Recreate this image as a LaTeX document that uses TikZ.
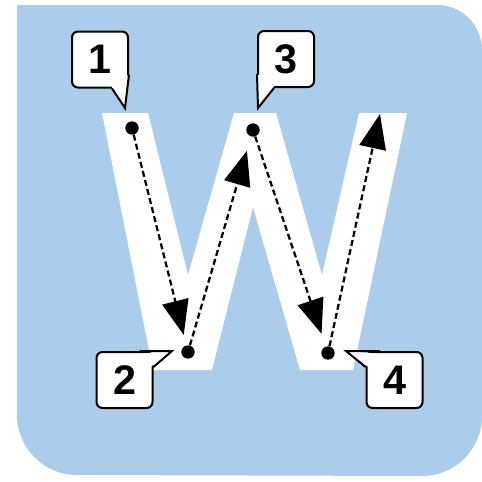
\documentclass[tikz,border=0pt]{standalone}
\usepackage{fontspec}
\setmainfont{Liberation Sans}
\usetikzlibrary{arrows.meta, calc}
\definecolor{tileblue}{RGB}{171,204,235}

\begin{document}
\begin{tikzpicture}[
    x=0.75pt, y=-0.75pt,
    dot/.style={circle, fill=black, inner sep=0pt, minimum size=10pt},
    badge/.style={rectangle, draw=black, fill=white, line width=1.5pt, rounded corners=4.5pt, minimum width=42pt, minimum height=42pt, inner sep=0pt, font=\fontsize{31}{31}\selectfont\bfseries},
    tailfill/.style={fill=white},
    tailline/.style={draw=black, line width=1.5pt, line join=miter},
    trace/.style={-{Triangle[length=26pt, width=20pt]}, dash pattern=on 4.5pt off 2.5pt, line width=1.7pt},
]
    % Page and tile
    \fill[white] (0,0) rectangle (482,482);
    \useasboundingbox (0,0) rectangle (482,482);
    \fill[tileblue] (17,5) -- (437,5) arc[start angle=-90, end angle=0, radius=45]
        -- (482,416) arc[start angle=0, end angle=90, radius=60]
        -- (77,475) arc[start angle=90, end angle=180, radius=60] -- cycle;

    % Letter W
    \fill[white] (102,113) -- (148,113) -- (188,275) -- (234,113) -- (276,113)
        -- (322,275) -- (359,113) -- (407,113) -- (353,370) -- (300,370)
        -- (253,207) -- (212,370) -- (153,370) -- cycle;

    % Stroke points
    \node[dot] (p1) at (132,128) {};
    \node[dot] (p2) at (188,352) {};
    \node[dot] (p3) at (253,130) {};
    \node[dot] (p4) at (328,353) {};
    \coordinate (stop) at (380,114);

    % Stroke order
    \draw[trace, shorten >=8pt] (p1) -- (p2);
    \draw[trace, shorten >=11pt] (p2) -- (p3);
    \draw[trace, shorten >=10pt] (p3) -- (p4);
    \draw[trace] (p4) -- (stop);

    % Number badges
    \node[badge] (c1) at (100,59.5) {1};
    \node[badge] (c3) at (286,59) {3};
    \node[badge] (c2) at (124.5,380) {2};
    \node[badge] (c4) at (394.5,380) {4};
    \coordinate (t1) at (125,108);
    \coordinate (t3) at (258,108);
    \coordinate (t2) at (172,351);
    \coordinate (t4) at (346,351);

    % Badge tails
    \fill[tailfill] ($(c1.south east)+(-18,-3)$) -- (t1) -- ($(c1.south east)+(0,-14)$) -- cycle;
    \draw[tailline] ($(c1.south east)+(-17,0)$) -- (t1) -- ($(c1.south east)+(0,-14)$);
    \fill[tailfill] ($(c3.south west)+(18,-3)$) -- (t3) -- ($(c3.south west)+(0,-14)$) -- cycle;
    \draw[tailline] ($(c3.south west)+(17,0)$) -- (t3) -- ($(c3.south west)+(0,-14)$);
    \fill[tailfill] ($(c2.north east)+(-14,3)$) -- (t2) -- ($(c2.north east)+(-3,16)$) -- cycle;
    \draw[tailline] ($(c2.north east)+(-14,0)$) -- (t2) -- ($(c2.north east)+(0,16)$);
    \fill[tailfill] ($(c4.north west)+(14,3)$) -- (t4) -- ($(c4.north west)+(3,16)$) -- cycle;
    \draw[tailline] ($(c4.north west)+(14,0)$) -- (t4) -- ($(c4.north west)+(0,16)$);
\end{tikzpicture}
\end{document}
